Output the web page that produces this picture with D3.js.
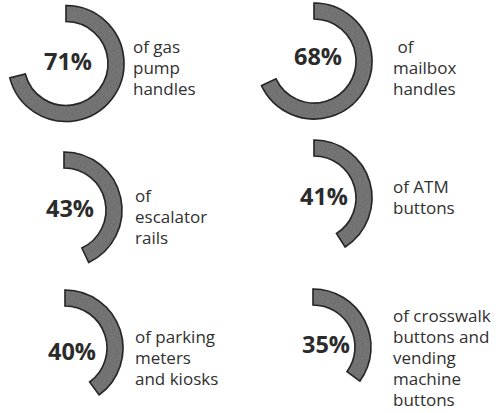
<!DOCTYPE html>
<html>
<head>
<meta charset="utf-8">
<script src="https://cdn.jsdelivr.net/npm/d3@7/dist/d3.min.js"></script>
<style>
  html, body { margin: 0; padding: 0; background: #ffffff; }
  svg { display: block; }
  .pct { font-family: "Open Sans", sans-serif; font-weight: 700; fill: #2b2b2b; }
  .lbl { font-family: "Open Sans", sans-serif; font-weight: 400; fill: #303030; white-space: pre; }
</style>
</head>
<body>
<script>
// Share of surfaces found contaminated, one ring per surface type
const items = ["gas pump handles", "mailbox handles", "escalator rails",
               "ATM buttons", "parking meters and kiosks",
               "crosswalk buttons and vending machine buttons"];
const percents = [71, 68, 43, 41, 40, 35];
const labelLines = [
  ["of gas", "pump", "handles"],
  [" of", "mailbox", "handles"],
  ["of", "escalator", "rails"],
  ["of ATM", "buttons"],
  ["of parking", "meters", "and kiosks"],
  ["of crosswalk", "buttons and", "vending", "machine", "buttons"]
];

// Panel placement: grid cell plus small nudges for each ring and its texts
const layout = [
  { col: 0, row: 0, dx: 1,  dy: 1.5, pctDx: 2,  pctDy: 6.5, lblDx: 67, lblDy: -10.5 },
  { col: 1, row: 0, dx: 0,  dy: -1,  pctDx: 4,  pctDy: 4,   lblDx: 79, lblDy: -8 },
  { col: 0, row: 1, dx: -1, dy: 5,   pctDx: 6,  pctDy: 7,   lblDx: 71, lblDy: -8 },
  { col: 1, row: 1, dx: 0,  dy: -7,  pctDx: 10, pctDy: 7,   lblDx: 79, lblDy: -5 },
  { col: 0, row: 2, dx: 0,  dy: 0,   pctDx: 7,  pctDy: 12,  lblDx: 70, lblDy: -5 },
  { col: 1, row: 2, dx: -1, dy: -1,  pctDx: 13, pctDy: 6,   lblDx: 80, lblDy: -25 }
];

const W = 501, H = 413;
const outerR = 58, innerR = 42, lineH = 21;

const svg = d3.select("body").append("svg").attr("width", W).attr("height", H);

// Grainy print texture for the ring fill
const defs = svg.append("defs");
const f = defs.append("filter").attr("id", "grain").attr("x", "-10%").attr("y", "-10%")
  .attr("width", "120%").attr("height", "120%");
f.append("feTurbulence").attr("type", "fractalNoise").attr("baseFrequency", 0.55)
  .attr("numOctaves", 2).attr("seed", 4).attr("result", "noise");
f.append("feColorMatrix").attr("in", "noise").attr("type", "matrix")
  .attr("values", "0 0 0 0 0  0 0 0 0 0  0 0 0 0 0  0 0 0 0.35 -0.05").attr("result", "speck");
f.append("feComposite").attr("in", "speck").attr("in2", "SourceGraphic").attr("operator", "in").attr("result", "spk");
f.append("feMerge").selectAll("feMergeNode").data(["SourceGraphic", "spk"]).join("feMergeNode").attr("in", d => d);

const xCol = d3.scalePoint().domain([0, 1]).range([65, 314]);
const yRow = d3.scalePoint().domain([0, 1, 2]).range([62, 348]);
const angle = d3.scaleLinear().domain([0, 100]).range([0, 2 * Math.PI]);
const arc = d3.arc().innerRadius(innerR).outerRadius(outerR).startAngle(0);

const panels = svg.selectAll("g.panel")
  .data(items.map((name, i) => ({ name, pct: percents[i], lines: labelLines[i], L: layout[i] })))
  .join("g")
  .attr("class", "panel")
  .attr("transform", d => `translate(${xCol(d.L.col) + d.L.dx},${yRow(d.L.row) + d.L.dy})`);

panels.append("path")
  .attr("d", d => arc({ endAngle: angle(d.pct) }))
  .attr("fill", "#7a7a7a")
  .attr("stroke", "#2a2a2a")
  .attr("stroke-width", 1.6)
  .attr("stroke-linejoin", "miter")
  .attr("filter", "url(#grain)");

panels.append("text")
  .attr("class", "pct")
  .attr("x", d => d.L.pctDx)
  .attr("y", d => d.L.pctDy)
  .attr("text-anchor", "middle")
  .attr("font-size", 23.5)
  .text(d => d.pct + "%");

panels.append("text")
  .attr("class", "lbl")
  .attr("font-size", 17)
  .selectAll("tspan")
  .data(d => d.lines.map((t, k) => ({ t, k, L: d.L })))
  .join("tspan")
  .attr("x", d => d.L.lblDx)
  .attr("y", d => d.L.lblDy + d.k * lineH)
  .text(d => d.t);
</script>
</body>
</html>
